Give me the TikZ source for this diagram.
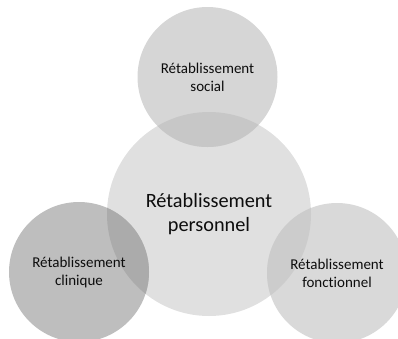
\documentclass[tikz,border=0pt]{standalone}
\usepackage{fontspec}
\setmainfont{Carlito}[Ligatures=NoCommon]
\definecolor{cC}{gray}{0.878}
\definecolor{cT}{gray}{0.84}
\definecolor{cL}{gray}{0.745}
\definecolor{cR}{gray}{0.85}
\definecolor{oT}{gray}{0.78}
\definecolor{oL}{gray}{0.67}
\definecolor{oR}{gray}{0.80}
\definecolor{txt}{gray}{0.05}
\tikzset{
  disc/.style={circle, inner sep=0pt, draw=none},
  small/.style={disc, minimum size=140pt},
  big/.style={disc, minimum size=204pt},
  lbl/.style={align=center, text=txt, font=\fontsize{15}{18}\selectfont},
  biglbl/.style={align=center, text=txt, font=\fontsize{20.3}{23.5}\selectfont},
}
\begin{document}
\begin{tikzpicture}[x=1pt,y=-1pt]
\useasboundingbox (0,0) rectangle (398,338);
\clip (0,0) rectangle (398,338);
\node[big, fill=cC] (ctr) at (209,214) {};
\node[small, fill=cT] (top) at (207.5,77) {};
\node[small, fill=cL] (lft) at (79,272) {};
\node[small, fill=cR] (rgt) at (337,273) {};
\begin{scope}
  \clip (ctr.center) circle (102pt);
  \fill[oT] (top.center) circle (70pt);
  \fill[oL] (lft.center) circle (70pt);
  \fill[oR] (rgt.center) circle (70pt);
\end{scope}
\node[biglbl] (tc) at (ctr.center) {Rétablissement\\personnel};
\node[lbl] (tt) at (top.center) {Rétablissement\\social};
\node[lbl] (tl) at (lft.center) {Rétablissement\\clinique};
\node[lbl] (tr) at (rgt.center) {Rétablissement\\fonctionnel};
\end{tikzpicture}
\end{document}
